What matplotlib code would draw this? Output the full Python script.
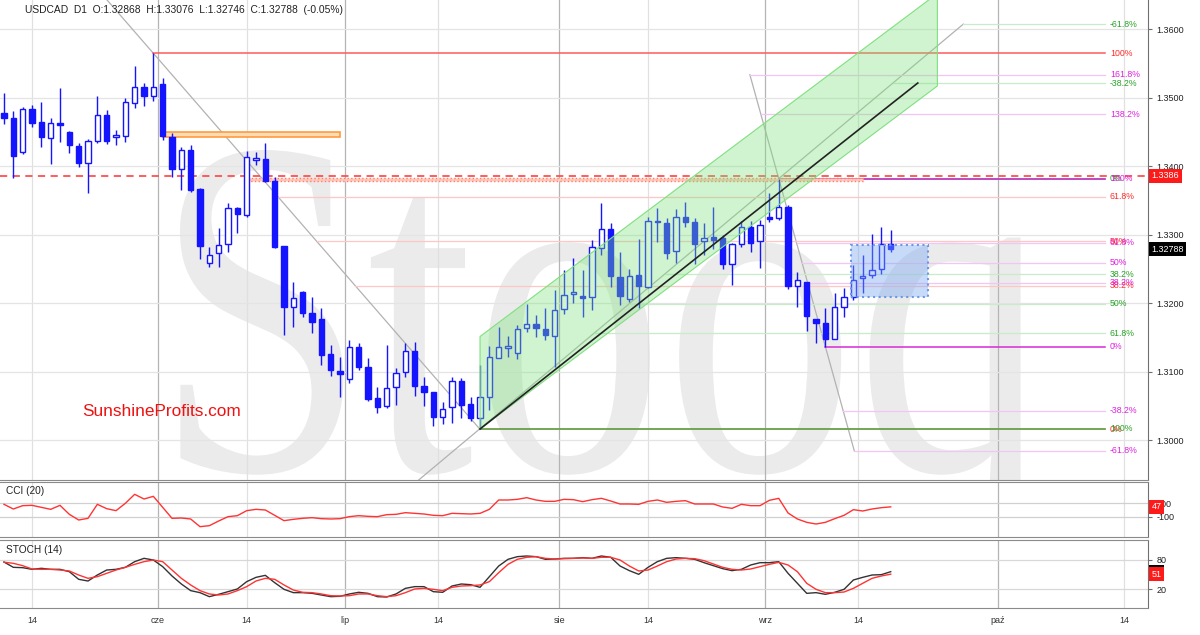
import numpy as np
import pandas as pd
import matplotlib
matplotlib.use("Agg")
import matplotlib.pyplot as plt
from matplotlib.patches import Rectangle, Polygon, PathPatch
from matplotlib.textpath import TextPath
from matplotlib.font_manager import FontProperties
from matplotlib.transforms import Affine2D, blended_transform_factory

plt.rcParams['font.family'] = ['Liberation Sans', 'DejaVu Sans']

# ---------------- data ----------------
dates = pd.bdate_range("2019-05-09", "2019-09-19")

opens = [1.34774, 1.34701, 1.34213, 1.34841, 1.34642, 1.34409, 1.34628, 1.34501, 1.34296, 1.34052,
         1.34374, 1.34744, 1.34423, 1.34438, 1.34928, 1.35157, 1.35022, 1.35201, 1.34423, 1.33956,
         1.34233, 1.33664, 1.32584, 1.32730, 1.32865, 1.33387, 1.33289, 1.34092, 1.34106, 1.33785,
         1.32836, 1.31941, 1.32169, 1.31854, 1.31766, 1.31259, 1.31016, 1.30890, 1.31357, 1.31065,
         1.30612, 1.30504, 1.30773, 1.30992, 1.31303, 1.30792, 1.30700, 1.30335, 1.30490, 1.30870,
         1.30525, 1.30321, 1.30627, 1.31205, 1.31342, 1.31270, 1.31635, 1.31697, 1.31620, 1.31526,
         1.31912, 1.32131, 1.32106, 1.32087, 1.32803, 1.33080, 1.32379, 1.32062, 1.32408, 1.32242,
         1.33206, 1.33176, 1.32763, 1.33264, 1.33191, 1.32909, 1.32963, 1.32957, 1.32573, 1.32865,
         1.33109, 1.32909, 1.33255, 1.33241, 1.33401, 1.32256, 1.32306, 1.31766, 1.31707, 1.31478,
         1.31950, 1.32091, 1.32365, 1.32408, 1.32496, 1.32868]
highs = [1.35066, 1.34812, 1.34861, 1.34895, 1.34943, 1.34701, 1.35147, 1.34515, 1.34344, 1.34403,
         1.35031, 1.34826, 1.34530, 1.34993, 1.35464, 1.35212, 1.35650, 1.35285, 1.34482, 1.34286,
         1.34311, 1.33679, 1.32817, 1.33095, 1.33460, 1.33401, 1.34228, 1.34204, 1.34336, 1.33839,
         1.32836, 1.32306, 1.32184, 1.32087, 1.31927, 1.31391, 1.31220, 1.31464, 1.31416, 1.31197,
         1.30782, 1.31391, 1.31050, 1.31424, 1.31439, 1.30919, 1.30709, 1.30563, 1.30919, 1.30905,
         1.30636, 1.31099, 1.31376, 1.31658, 1.31522, 1.31683, 1.31989, 1.31829, 1.31927, 1.32194,
         1.32486, 1.32657, 1.32486, 1.32924, 1.33460, 1.33168, 1.32753, 1.32500, 1.32934, 1.33264,
         1.33387, 1.33241, 1.33372, 1.33474, 1.33241, 1.33168, 1.33401, 1.32997, 1.32876, 1.33206,
         1.33206, 1.33216, 1.33606, 1.33820, 1.33435, 1.32461, 1.32315, 1.31766, 1.31927, 1.32146,
         1.32219, 1.32559, 1.32705, 1.33011, 1.33118, 1.33076]
lows = [1.34617, 1.33825, 1.34179, 1.34578, 1.34286, 1.34033, 1.34359, 1.34190, 1.33985, 1.33606,
        1.34344, 1.34325, 1.34311, 1.34350, 1.34847, 1.34880, 1.34958, 1.34384, 1.33848, 1.33654,
        1.33629, 1.32642, 1.32534, 1.32525, 1.32753, 1.33022, 1.33264, 1.34019, 1.33775, 1.32803,
        1.31537, 1.31649, 1.31804, 1.31562, 1.31099, 1.30938, 1.30627, 1.30832, 1.31026, 1.30573,
        1.30402, 1.30467, 1.30515, 1.30928, 1.30646, 1.30500, 1.30208, 1.30233, 1.30248, 1.30321,
        1.30286, 1.30165, 1.30442, 1.31197, 1.31220, 1.31182, 1.31585, 1.31512, 1.31464, 1.31074,
        1.31843, 1.32008, 1.31804, 1.31902, 1.32705, 1.32242, 1.31975, 1.32023, 1.31927, 1.32219,
        1.32899, 1.32642, 1.32584, 1.33118, 1.32573, 1.32705, 1.32788, 1.32496, 1.32267, 1.32817,
        1.32753, 1.32511, 1.33191, 1.33216, 1.32204, 1.31945, 1.31599, 1.31416, 1.31366, 1.31474,
        1.31795, 1.32048, 1.32146, 1.32365, 1.32427, 1.32746]
closes = [1.34709, 1.34150, 1.34832, 1.34636, 1.34423, 1.34628, 1.34598, 1.34306, 1.34052, 1.34374,
          1.34744, 1.34369, 1.34452, 1.34934, 1.35162, 1.35026, 1.35157, 1.34442, 1.33956, 1.34233,
          1.33654, 1.32836, 1.32705, 1.32851, 1.33387, 1.33299, 1.34131, 1.34116, 1.33790, 1.32826,
          1.31941, 1.32073, 1.31862, 1.31731, 1.31245, 1.31026, 1.30963, 1.31357, 1.31074, 1.30602,
          1.30490, 1.30758, 1.30977, 1.31307, 1.30796, 1.30700, 1.30344, 1.30461, 1.30870, 1.30515,
          1.30321, 1.30627, 1.31211, 1.31366, 1.31376, 1.31620, 1.31697, 1.31643, 1.31537, 1.31902,
          1.32116, 1.32169, 1.32081, 1.32817, 1.33080, 1.32398, 1.32106, 1.32398, 1.32252, 1.33206,
          1.33182, 1.32738, 1.33255, 1.33191, 1.32865, 1.32948, 1.32924, 1.32573, 1.32865, 1.33109,
          1.32884, 1.33143, 1.33226, 1.33401, 1.32252, 1.32335, 1.31818, 1.31707, 1.31478, 1.31941,
          1.32087, 1.32340, 1.32398, 1.32486, 1.32865, 1.32788]

cci = [85, 15, 65, 70, 40, 10, 70, -65, -150, -125,
       85, 20, -10, 100, 235, 165, 205, 40, -125, -120,
       -135, -250, -235, -165, -100, -85, -10, 10, 0, -80,
       -160, -140, -125, -115, -130, -135, -130, -100, -85, -95,
       -100, -70, -65, -40, -50, -60, -80, -85, -50, -55,
       -60, -50, 10, 150, 150, 160, 185, 150, 130, 130,
       160, 155, 125, 155, 175, 135, 90, 90, 85, 130,
       150, 115, 130, 140, 90, 90, 90, 45, 25, 85,
       65, 65, 145, 175, -45, -135, -185, -210, -185, -130,
       -80, 5, -15, 15, 35, 47]

stoch_k = [75.9, 65.0, 64.3, 60.9, 63.0, 60.9, 60.9, 56.1, 40.5, 37.0,
           49.3, 59.5, 60.9, 65.0, 76.6, 83.4, 80.0, 66.4, 47.3, 30.9,
           17.3, 13.2, 5.0, 9.8, 15.2, 20.7, 35.7, 44.5, 48.6, 33.6,
           20.0, 13.2, 13.2, 11.8, 8.4, 5.0, 5.7, 10.5, 13.9, 11.8,
           5.0, 4.3, 10.5, 22.0, 25.5, 25.5, 15.2, 13.9, 26.8, 30.9,
           29.5, 24.1, 45.9, 67.7, 81.4, 86.8, 88.2, 86.8, 81.4, 82.0,
           83.4, 83.4, 84.8, 83.4, 88.2, 85.5, 67.7, 58.2, 50.7, 65.0,
           76.6, 83.4, 84.8, 83.4, 81.4, 74.5, 68.4, 62.3, 58.2, 60.9,
           69.8, 74.5, 74.5, 76.6, 52.7, 32.3, 11.8, 13.2, 9.8, 13.9,
           20.0, 39.1, 44.5, 49.3, 50.0, 56.1]
stoch_d = [75.5, 73.2, 68.4, 61.6, 60.9, 60.9, 59.5, 57.5, 49.3, 42.5,
           45.9, 52.7, 59.5, 65.0, 71.1, 76.6, 80.0, 76.6, 59.5, 42.5,
           28.9, 17.3, 10.5, 8.4, 10.5, 17.3, 25.5, 37.0, 42.5, 40.5,
           28.9, 18.6, 13.9, 13.2, 10.5, 7.0, 6.4, 7.0, 10.5, 10.5,
           7.0, 5.0, 7.0, 13.2, 20.7, 22.0, 20.0, 17.3, 24.1, 26.8,
           27.5, 28.9, 35.7, 54.1, 71.1, 81.4, 85.5, 86.8, 83.4, 82.0,
           82.7, 83.4, 84.1, 83.4, 85.5, 85.5, 80.0, 67.7, 57.5, 59.5,
           67.7, 76.6, 82.0, 83.4, 82.7, 78.6, 71.8, 65.0, 60.9, 59.5,
           61.6, 66.4, 71.1, 75.2, 69.8, 56.1, 32.3, 20.0, 13.2, 13.2,
           14.5, 22.0, 32.3, 42.5, 47.3, 51.0]

tick_dates = ["2019-05-14", "2019-06-01", "2019-06-14", "2019-07-01", "2019-07-14", "2019-08-01",
              "2019-08-14", "2019-09-01", "2019-09-14", "2019-10-01", "2019-10-14"]
tick_labels = ["14", "cze", "14", "lip", "14", "sie", "14", "wrz", "14", "paź", "14"]

price_ticks = [1.30, 1.31, 1.32, 1.33, 1.34, 1.35, 1.36]

# Fibonacci sets: (x of 0%, price 0%, x of 100%, price 100%)
fib_red = dict(x0=51, p0=1.3016, x1=16, p1=1.3565, ratios=[1.0, 0.618, 0.5, 0.382, 0.0])
fib_green = dict(x0=83, p0=1.3382, x1=51, p1=1.3017, ratios=[-0.618, -0.382, 0.0, 0.382, 0.5, 0.618, 1.0])
fib_mag = dict(x0=88, p0=1.31366, x1=83, p1=1.3382, ratios=[-0.618, -0.382, 0.0, 0.382, 0.5, 0.618, 1.0, 1.382, 1.618])

resistance = 1.3386
last_close = 1.32788
cci_last = 47
stoch_last_k, stoch_last_d = 56, 51

# channel / trendline / boxes
chan_x = [51, 100]
chan_low = [1.30165, 1.35173]
chan_width = 0.0135
trend_x = [51, 97.9]
trend_p = [1.30165, 1.35216]
orange_box = (17, 36, 1.34432, 1.34496)
red_band = (26, 92, 1.33790, 1.33833)
blue_box = (90.75, 99.0, 1.32092, 1.32851)

# ---------------- layout ----------------
W, H = 1200, 635
fig = plt.figure(figsize=(W / 100, H / 100), dpi=100)
AXR = 1148
def rect(top, bot):
    return [0, 1 - bot / H, AXR / W, (bot - top) / H]

ax = fig.add_axes(rect(0, 480))
axc = fig.add_axes(rect(482, 537))
axs = fig.add_axes(rect(540, 608))

PX_SLOT = 9.334
xlim = (-4 / PX_SLOT, (AXR - 4) / PX_SLOT)
for a in (ax, axc, axs):
    a.set_xlim(*xlim)
    a.set_facecolor('white')
    for s in ('left',):
        a.spines[s].set_visible(False)
    a.spines['right'].set_color('#707070')
    a.spines['bottom'].set_color('#8a8a8a')
    a.spines['top'].set_color('#8a8a8a')
ax.spines['top'].set_visible(False)

ax.set_ylim(1.294204, 1.364277)
axc.set_ylim(-405, 420)
axs.set_ylim(-18.2, 120.9)

n = len(dates)
last = dates[-1]

def slot(d):
    d = pd.Timestamp(d)
    if d <= last:
        i = int(dates.searchsorted(d))
        exact = i < n and dates[i] == d
    else:
        i = n - 1 + (d - last).days
        exact = True
    if d.day == 1 or not exact:
        return i - 0.5
    return i

tick_pos = [slot(d) for d in tick_dates]

for a in (ax, axc, axs):
    for p, lab in zip(tick_pos, tick_labels):
        month = not lab.isdigit()
        a.axvline(p, color='#b4b4b4' if month else '#e0e0e0', lw=0.9, zorder=0.4)
    a.tick_params(axis='x', length=0)
    a.set_xticks(tick_pos)
    a.set_xticklabels([])

axs.set_xticklabels(tick_labels, fontsize=6.5, color='#333333')
axs.tick_params(axis='x', pad=6)

for p in price_ticks:
    ax.axhline(p, color='#e4e4e4', lw=0.9, zorder=0.4)

for a in (ax, axc, axs):
    a.yaxis.tick_right()
    a.tick_params(axis='y', length=3, color='#707070', labelsize=6.5, labelcolor='#222222', pad=3)

ax.set_yticks(price_ticks)
ax.set_yticklabels([f"{v:.4f}" for v in price_ticks])
axc.set_yticks([100, -100])
axc.set_yticklabels(["100", "-100"])
axs.set_yticks([80, 20])
axs.set_yticklabels(["80", "20"])

# ---------------- watermark ----------------
fp = FontProperties(family='Liberation Serif')
tp = TextPath((0, 0), "Stooq", size=1, prop=fp)
bb = tp.get_extents()
cap = TextPath((0, 0), "S", size=1, prop=fp).get_extents().y1
x_left, x_right, y_top, y_base = 180, 1040, 150, 470
sx = (x_right - x_left) / bb.width
sy = (y_base - y_top) / cap
tr = (Affine2D().translate(-bb.x0, 0).scale(sx / AXR, sy / 480)
      .translate(x_left / AXR, 1 - y_base / 480) + ax.transAxes)
ax.add_patch(PathPatch(tp, transform=tr, facecolor='#ebebeb', edgecolor='none', zorder=0.2))

# ---------------- fibonacci ----------------
X_END = (1105 - 4) / PX_SLOT
X_LAB = (1110 - 4) / PX_SLOT

def draw_fib(f, solid, faint, tcolor, rmin, rmax):
    xr = lambda r: f['x0'] + r * (f['x1'] - f['x0'])
    pr = lambda r: f['p0'] + r * (f['p1'] - f['p0'])
    ax.plot([xr(rmin), xr(rmax)], [pr(rmin), pr(rmax)], color='#b2b2b2', lw=0.9, zorder=1.5)
    for r in f['ratios']:
        is_solid = r in (0.0, 1.0)
        ax.plot([xr(r), X_END], [pr(r), pr(r)], color=solid if is_solid else faint,
                lw=1.1 if is_solid else 0.9, zorder=1.7 if is_solid else 1.6)
        lab = f"{r * 100:.1f}%".replace(".0%", "%")
        ax.text(X_LAB, pr(r), lab, color=tcolor, fontsize=6.3, va='center', ha='left', zorder=8)

draw_fib(fib_red, '#ff5a5a', '#ffc6c6', '#ff2a2a', 0.0, 1.15)
draw_fib(fib_green, '#4fb34f', '#c9ebc9', '#27a327', -0.618, 1.21)
draw_fib(fib_mag, '#d62ad6', '#f2c6f2', '#e020e0', -0.618, 1.618)

# ---------------- zones ----------------
x0, x1, p0, p1 = red_band
ax.add_patch(Rectangle((x0, p0), x1 - x0, p1 - p0, facecolor='#ffc8c0', edgecolor='#ff8060',
                       ls=':', lw=1.0, zorder=1.8))
x0, x1, p0, p1 = orange_box
ax.add_patch(Rectangle((x0, p0), x1 - x0, p1 - p0, facecolor='#ffdcb8', edgecolor='#ff9a3c',
                       lw=1.2, zorder=1.8))
ax.axhline(resistance, color='#ff5050', ls=(0, (4, 3)), lw=1.3, zorder=1.9)

# ---------------- candles ----------------
x = np.arange(n)
o = np.array(opens); c = np.array(closes); h = np.array(highs); l = np.array(lows)
up = c >= o
blue = '#1414ff'
ax.vlines(x, l, h, color=blue, lw=1.0, zorder=2)
bottom = np.minimum(o, c)
height = np.maximum(np.abs(c - o), 0.00005)
ax.bar(x[up], height[up], bottom=bottom[up], width=0.57, facecolor='white',
       edgecolor=blue, lw=1.0, zorder=3)
ax.bar(x[~up], height[~up], bottom=bottom[~up], width=0.57, facecolor=blue,
       edgecolor=blue, lw=1.0, zorder=3)

# ---------------- channel, trendline, box ----------------
chan = Polygon([(chan_x[0], chan_low[0]), (chan_x[1], chan_low[1]),
                (chan_x[1], chan_low[1] + chan_width), (chan_x[0], chan_low[0] + chan_width)],
               closed=True, facecolor='#7be37b', alpha=0.36, edgecolor='none', zorder=4)
ax.add_patch(chan)
ax.add_patch(Polygon([(chan_x[0], chan_low[0]), (chan_x[1], chan_low[1]),
                      (chan_x[1], chan_low[1] + chan_width), (chan_x[0], chan_low[0] + chan_width)],
                     closed=True, facecolor='none', edgecolor='#80e080', lw=0.8, zorder=4.1))
ax.plot(trend_x, trend_p, color='#222222', lw=1.2, zorder=5)

x0, x1, p0, p1 = blue_box
ax.add_patch(Rectangle((x0, p0), x1 - x0, p1 - p0, facecolor='#7aa8f0', alpha=0.42,
                       edgecolor='none', zorder=4))
ax.add_patch(Rectangle((x0, p0), x1 - x0, p1 - p0, facecolor='none', edgecolor='#6a98e6',
                       ls=':', lw=1.5, zorder=4.1))

# ---------------- texts ----------------
ax.text(162 / AXR, 1 - 411 / 480, "SunshineProfits.com", transform=ax.transAxes,
        color='#ee1111', fontsize=12.4, ha='center', va='center', zorder=9)
fig.text(25 / W, 1 - 10 / H,
         "USDCAD  D1  O:1.32868  H:1.33076  L:1.32746  C:1.32788  (-0.05%)",
         fontsize=7.4, color='#222222', ha='left', va='center')

def value_box(a, y, s, fc):
    bt = blended_transform_factory(a.transAxes, a.transData)
    a.text(1.003, y, s, transform=bt, fontsize=6.5, color='white', ha='left', va='center',
           clip_on=False, zorder=20,
           bbox=dict(boxstyle='square,pad=0.28', facecolor=fc, edgecolor='none'))

value_box(ax, resistance, f"{resistance:.4f}", '#ff1a1a')
value_box(ax, last_close, f"{last_close:.5f}", '#000000')

# ---------------- CCI ----------------
axc.axhline(100, color='#d0d0d0', lw=0.9, zorder=0.5)
axc.axhline(-100, color='#d0d0d0', lw=0.9, zorder=0.5)
axc.plot(x, cci, color='#ff3333', lw=1.0, zorder=3)
axc.text(6 / AXR, 0.83, "CCI (20)", transform=axc.transAxes, fontsize=7.3, color='#222222',
         ha='left', va='center')
value_box(axc, cci_last, str(cci_last), '#ff1a1a')

# ---------------- STOCH ----------------
axs.axhline(80, color='#d8d8d8', lw=0.9, zorder=0.5)
axs.axhline(20, color='#d8d8d8', lw=0.9, zorder=0.5)
axs.plot(x, stoch_k, color='#333333', lw=1.0, zorder=3)
axs.plot(x, stoch_d, color='#ff3333', lw=1.0, zorder=3.1)
axs.text(6 / AXR, 0.85, "STOCH (14)", transform=axs.transAxes, fontsize=7.3, color='#222222',
         ha='left', va='center')
value_box(axs, stoch_last_k, str(stoch_last_k), '#000000')
value_box(axs, stoch_last_d, str(stoch_last_d), '#ff1a1a')

fig.savefig("out.png", dpi=100)
